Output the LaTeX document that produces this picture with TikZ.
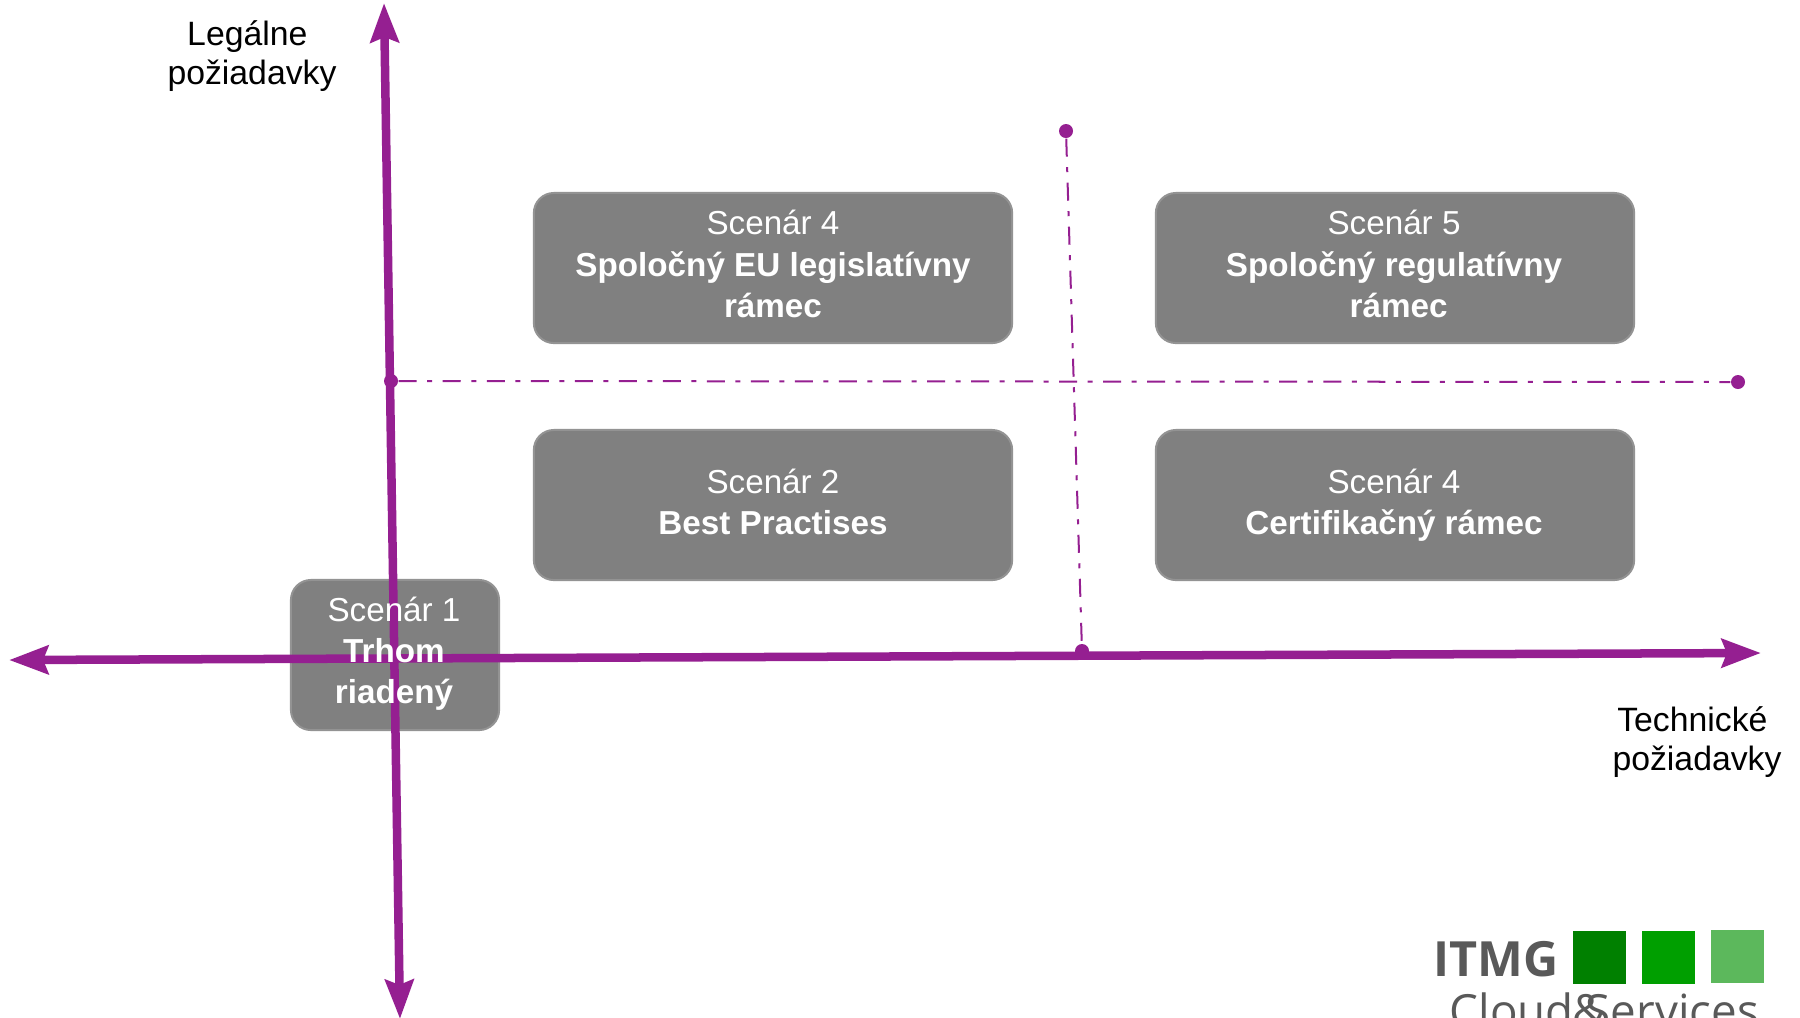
\documentclass[tikz,border=0pt]{standalone}
\usepackage{fontspec}
\setmainfont{Liberation Sans}
\newfontfamily\logofont{Open Sans}
\usetikzlibrary{arrows.meta}

\begin{document}
\begin{tikzpicture}
[x=0.01cm,y=-0.01cm,%
  axisArrow/.style={<->,>={Stealth[length=3.9mm,width=2.8mm,inset=0.5mm]},line width=0.85mm,color=axisPurple},%
  gridLine/.style={line width=0.2mm,color=axisPurple,dash pattern=on 1.8mm off 1.05mm on 0.5mm off 1.05mm},%
  gridDot/.style={shape=circle,inner sep=0pt,minimum size=1.4mm,fill=axisPurple},%
  boxDecorate/.style={shape=rectangle,rounded corners=2mm,inner sep=0pt,fill=boxGray,draw=boxGray!85,line width=0.2mm},%
  boxText/.style={align=center,text=white,inner sep=0pt,font=\fontsize{9.45}{11.7}\selectfont},%
  axisText/.style={align=center,inner sep=0pt,font=\fontsize{9.6}{11.1}\selectfont},%
  logoText/.style={anchor=base west,inner sep=0pt,text=logoGray,font=\logofont\fontsize{13}{15}\selectfont}]
\definecolor{axisPurple}{HTML}{951F91}
\definecolor{boxGray}{HTML}{808080}
\definecolor{logoGray}{HTML}{595959}
\useasboundingbox (0,0) rectangle (1800,1017);
%% boxes
\foreach \boxname/\x/\y/\w/\h in {sc4a/773/268/478/150, sc5/1395/268/478/150, sc2/773/505/478/150, sc4b/1395/505/478/150, sc1/395/655/208/150}
{
  \node (\boxname) at (\x,\y) [boxDecorate,minimum width=\w*0.1mm,minimum height=\h*0.1mm] {};
}
%% axis ends and grid dots
\coordinate (top) at (384,3);
\coordinate (bottom) at (400,1019);
\coordinate (left) at (9,660);
\coordinate (right) at (1761,653);
\foreach \nodename/\x/\y in {west/391/381, east/1738/382, north/1066/131, south/1082/651}
{
  \node (\nodename) at (\x,\y) [gridDot] {};
}
%% axes and grid lines
\draw[axisArrow] (bottom) -- (top);
\draw[axisArrow] (left) -- (right);
\draw[gridLine] (west) -- (east);
\draw[gridLine] (north) -- (south);
%% box texts
\node (sc4atext) at (773,264) [boxText] {Scenár 4\\\textbf{Spoločný EU legislatívny}\\\textbf{rámec}};
\node (sc5text) at (1394,264) [boxText] {Scenár 5\\\textbf{Spoločný regulatívny}\\~\textbf{rámec}};
\node (sc2text) at (773,502) [boxText] {Scenár 2\\\textbf{Best Practises}};
\node (sc4btext) at (1394,505) [boxText] {Scenár 4\\\textbf{Certifikačný rámec}};
\node (sc1text) at (394,654) [boxText] {Scenár 1\\\textbf{Trhom}\\\textbf{riadený}};
%% axis labels
\node (legal) at (252,56) [axisText] {\mbox{Legálne\ }\\požiadavky};
\node (tech) at (1697,742) [axisText] {\mbox{Technické\ }\\požiadavky};
%% logo
\definecolor{logoSquareA}{HTML}{008000}
\definecolor{logoSquareB}{HTML}{009F00}
\definecolor{logoSquareC}{HTML}{5CB85C}
\foreach \nodename/\x/\y/\logocolor in {g1/1599/957.5/logoSquareA, g2/1668.5/957.5/logoSquareB, g3/1737.5/956/logoSquareC}
{
  \node (\nodename) at (\x,\y) [shape=rectangle,inner sep=0pt,minimum size=5.3mm,fill=\logocolor] {};
}
\node (itmg) at (1433,976) [logoText,font=\logofont\fontsize{13.8}{15}\selectfont] {\textbf{ITMG}};
\node (cloud) at (1449,1027) [logoText] {Cloud};
\node (amp) at (1572,1027) [logoText] {\&};
\node (services) at (1585,1027) [logoText] {Services};
\end{tikzpicture}
\end{document}
